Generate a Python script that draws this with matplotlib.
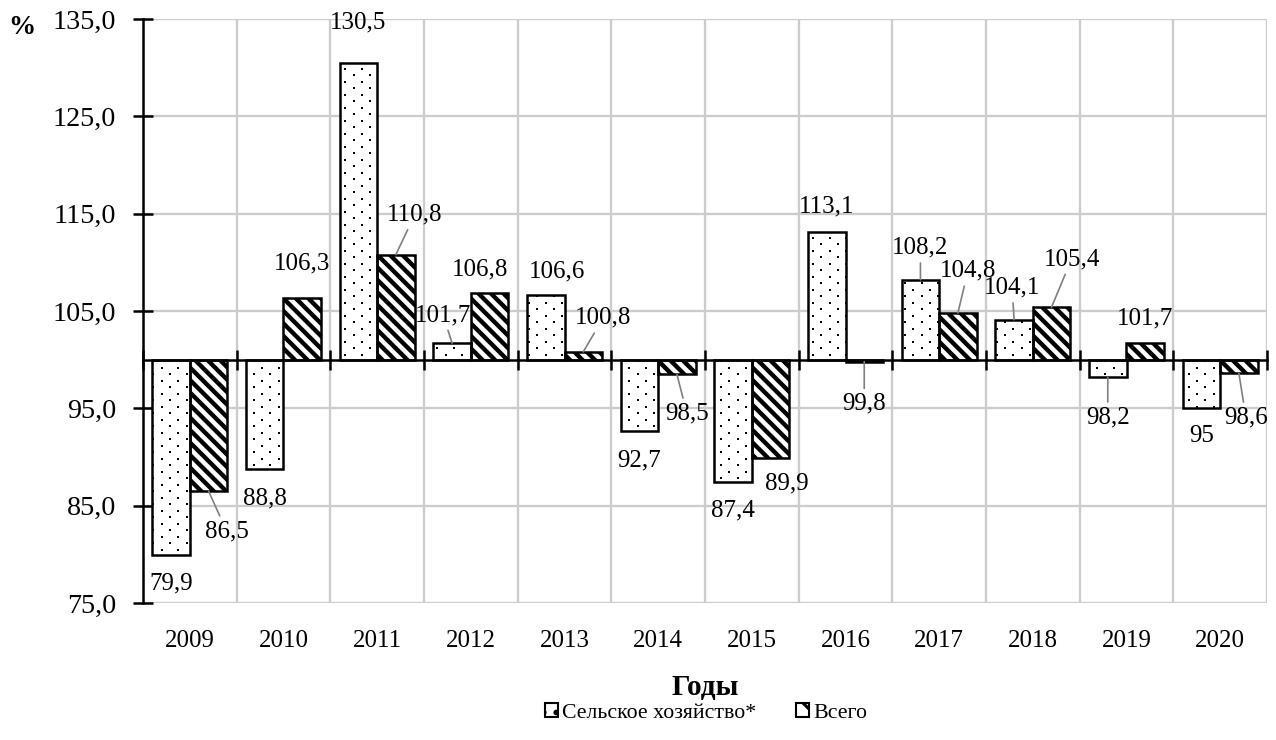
import matplotlib
matplotlib.use('Agg')
import matplotlib.pyplot as plt
import numpy as np
from matplotlib.patches import Patch
from matplotlib.collections import LineCollection
from matplotlib.lines import Line2D
from matplotlib.transforms import IdentityTransform

years = ['2009', '2010', '2011', '2012', '2013', '2014', '2015', '2016',
         '2017', '2018', '2019', '2020']
agri = [79.9, 88.8, 130.5, 101.7, 106.6, 92.7, 87.4, 113.1, 108.2, 104.1, 98.2, 95.0]
total = [86.5, 106.3, 110.8, 106.8, 100.8, 98.5, 89.9, 99.8, 104.8, 105.4, 101.7, 98.6]
y_ticks = [75, 85, 95, 105, 115, 125, 135]
base = 100
series_names = ['Сельское хозяйство*', 'Всего']

# label offsets in pixels (dx, dy) and leader-line flags (style only)
agri_off = [(0, -28), (0, -30), (0, 40), (-9, 28), (11, 24), (0, -30),
            (0, -28), (0, 26), (0, 32), (-2, 32), (0, -40), (0, -28)]
agri_lead = [0, 0, 0, 1, 0, 0, 0, 0, 1, 1, 1, 0]
total_off = [(18, -40), (0, 35), (19, 40), (-10, 24), (20, 34), (10, -39),
             (16, -25), (0, -42), (10, 42), (20, 48), (0, 25), (7, -44)]
total_lead = [1, 0, 1, 0, 1, 1, 0, 1, 1, 1, 0, 1]

plt.rcParams['font.family'] = ['Liberation Serif', 'DejaVu Serif']
plt.rcParams['hatch.linewidth'] = 1.5
DPI = 150
FS = 12
fig = plt.figure(figsize=(1276 / DPI, 740 / DPI), dpi=DPI)
ax = fig.add_axes([143 / 1276, 1 - 603 / 740, (1267 - 143) / 1276, (603 - 19) / 740])

ax.set_xlim(-0.5, len(years) - 0.5)
ax.set_ylim(75, 135)

x = np.arange(len(years))
w = 0.4
agri_h = np.array(agri) - base
total_h = np.array(total) - base
b1 = ax.bar(x - w / 2, agri_h, w, bottom=base, color='white', lw=0, zorder=3)
b2 = ax.bar(x + w / 2, total_h, w, bottom=base, color='white', lw=0, zorder=3)
ax.bar(x - w / 2, agri_h, w, bottom=base, fill=False, edgecolor='black', lw=1.2, zorder=3.3)
ax.bar(x + w / 2, total_h, w, bottom=base, fill=False, edgecolor='black', lw=1.2, zorder=3.3)


def add_stripes(patch, period=12.5, lw=2.1):
    bb = patch.get_window_extent()
    x0, y0, x1, y1 = bb.x0, bb.y0, bb.x1, bb.y1
    c0 = np.floor((x0 + y0) / period) * period
    cs = np.arange(c0, x1 + y1 + period, period)
    segs = [[(x0 - 5, c - (x0 - 5)), (x1 + 5, c - (x1 + 5))] for c in cs]
    lc = LineCollection(segs, colors='black', linewidths=lw,
                        transform=IdentityTransform(), zorder=3.1)
    ax.add_artist(lc)
    lc.set_clip_path(patch)


def add_dots(patch, dx=8.35, dy=6.5, ms=1.05):
    bb = patch.get_window_extent()
    xs, ys = [], []
    for i in range(int(np.floor(bb.x0 / dx)), int(np.ceil(bb.x1 / dx)) + 1):
        for j in range(int(np.floor(bb.y0 / dy)), int(np.ceil(bb.y1 / dy)) + 1):
            if (i + j) % 2 == 0:
                xs.append(i * dx + 3)
                ys.append(j * dy + 2)
    ln = Line2D(xs, ys, ls='none', marker='s', ms=ms, mfc='black', mec='none',
                transform=IdentityTransform(), zorder=3.1)
    ax.add_artist(ln)
    ln.set_clip_path(patch)


for p in b1:
    add_dots(p)
for p in b2:
    add_stripes(p)

ax.set_xticks(np.arange(-0.5, len(years), 1))
ax.set_xticklabels([])
ax.set_yticks(y_ticks)
ax.set_yticklabels([f"{t:.1f}".replace('.', ',') for t in y_ticks], fontsize=13.5)
ax.spines['bottom'].set_position(('data', base))
ax.spines['top'].set_visible(False)
ax.spines['right'].set_visible(False)
for s in ('bottom', 'left'):
    ax.spines[s].set_linewidth(1.2)
    ax.spines[s].set_zorder(3.5)
ax.tick_params(axis='x', direction='inout', length=10, width=1.2)
ax.tick_params(axis='y', direction='inout', length=10, width=1.2, pad=8)
ax.grid(True, color='#cccccc', lw=1.1)
ax.set_axisbelow(True)

sec = ax.secondary_xaxis('bottom')
sec.set_xticks(x, labels=years, fontsize=FS)
sec.tick_params(length=0, pad=13)
sec.spines['bottom'].set_visible(False)


def fmt(v):
    return f"{v:g}".replace('.', ',')


for xs_, vals, offs, leads in ((x - w / 2, agri, agri_off, agri_lead),
                               (x + w / 2, total, total_off, total_lead)):
    for xi, v, (dx, dy), ld in zip(xs_, vals, offs, leads):
        ap = dict(arrowstyle='-', color='#808080', lw=0.8, shrinkA=0, shrinkB=0) if ld else None
        ax.annotate(fmt(v), xy=(xi, v), xytext=(dx, dy), textcoords='offset pixels',
                    ha='center', va='center', fontsize=FS, arrowprops=ap, zorder=5)

fig.text(22 / 1276, 1 - 27 / 740, '%', fontsize=13, fontweight='bold', ha='center', va='center')
fig.text(705 / 1276, 1 - 688 / 740, 'Годы', fontsize=14, fontweight='bold', ha='center', va='center')

handles = [Patch(facecolor='white', edgecolor='black', hatch='..', lw=1.0),
           Patch(facecolor='white', edgecolor='black', hatch='\\\\', lw=1.0)]
fig.legend(handles=handles, labels=series_names, loc='center',
           bbox_to_anchor=(706 / 1276, 1 - 713 / 740), ncol=2, frameon=False,
           fontsize=10.5, handlelength=0.6, handleheight=0.6, handletextpad=0.2,
           columnspacing=1.8, borderaxespad=0, borderpad=0)

fig.savefig('out.png', dpi=DPI)
